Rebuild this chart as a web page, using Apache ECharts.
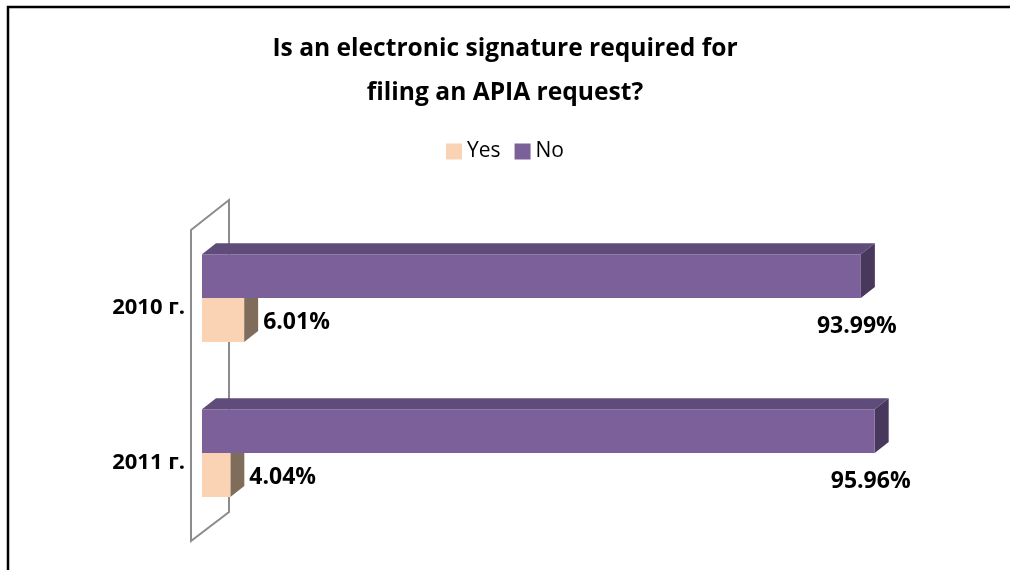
<!DOCTYPE html>
<html>
<head>
<meta charset="utf-8" />
<script type="text/javascript" src="https://cdn.jsdelivr.net/npm/echarts@6/dist/echarts.min.js"></script>
<title>APIA</title>
<style>
  html, body { margin: 0; padding: 0; background: #fff; }
</style>
</head>
<body>
<div id="main" style="width:1010px;height:570px"></div>
<script type="text/javascript">
var categories = ['2010 г.', '2011 г.'];
var yesValues = [6.01, 4.04];
var noValues = [93.99, 95.96];

var myChart = echarts.init(document.getElementById('main'));
var FONT = '"Open Sans", Lato, sans-serif';
var DX = 14, DY = -11;

// colours: front, top, side
var yesColors = ['#fad3b4', '#d9b497', '#7f6c5a'];
var noColors = ['#7b609a', '#5f4c7a', '#48385c'];

function makeRender(colors, isNo) {
  return function (params, api) {
    var cat = api.value(1), val = api.value(0);
    var p0 = api.coord([0, cat]);
    var p1 = api.coord([val, cat]);
    var band = api.size([0, 1])[1];
    var h = band * 0.283;
    var yc = p0[1] - band * 0.061;
    var top = isNo ? yc - h : yc;
    var x0 = p0[0], x1 = p1[0];
    var label = val.toFixed(2) + '%';
    var children = [
      {
        type: 'polygon',
        shape: { points: [[x0, top], [x0 + DX, top + DY], [x1 + DX, top + DY], [x1, top]] },
        style: { fill: colors[1] }
      },
      {
        type: 'polygon',
        shape: { points: [[x1, top], [x1 + DX, top + DY], [x1 + DX, top + h + DY], [x1, top + h]] },
        style: { fill: colors[2] }
      },
      {
        type: 'rect',
        shape: { x: x0, y: top, width: x1 - x0, height: h },
        style: { fill: colors[0] }
      }
    ];
    if (isNo) {
      children.push({
        type: 'text',
        style: {
          x: x1 - 4, y: top + h + 28, text: label,
          font: 'bold 23px ' + FONT, fill: '#000',
          align: 'center', verticalAlign: 'middle'
        }
      });
    } else {
      children.push({
        type: 'text',
        style: {
          x: x1 + 19, y: top + h / 2 + 2, text: label,
          font: 'bold 23px ' + FONT, fill: '#000',
          align: 'left', verticalAlign: 'middle'
        }
      });
    }
    return { type: 'group', children: children };
  };
}

var option = {
  animation: false,
  title: {
    text: 'Is an electronic signature required for\nfiling an APIA request?',
    left: 'center',
    top: 22,
    textStyle: { fontFamily: FONT, fontWeight: 'bold', fontSize: 24.6, lineHeight: 44, color: '#000' }
  },
  legend: {
    top: 136,
    left: 'center',
    itemWidth: 16,
    itemHeight: 16,
    itemGap: 14,
    icon: 'rect',
    textStyle: { fontFamily: FONT, fontSize: 21, color: '#000' },
    data: ['Yes', 'No']
  },
  grid: { left: 202, width: 701, top: 230, height: 310 },
  xAxis: { type: 'value', min: 0, max: 100, show: false },
  yAxis: {
    type: 'category',
    data: categories,
    inverse: true,
    axisLine: { show: false },
    axisTick: { show: false },
    axisLabel: { margin: 17, fontFamily: FONT, fontWeight: 'bold', fontSize: 22, color: '#000' }
  },
  graphic: [
    {
      type: 'rect', z: 0,
      shape: { x: 8, y: 7, width: 1100, height: 700 },
      style: { fill: 'none', stroke: '#000', lineWidth: 2.5 }
    },
    {
      type: 'polygon', z: 0,
      shape: { points: [[191, 230], [229, 200], [229, 512], [191, 541]] },
      style: { fill: 'none', stroke: '#8c8c8c', lineWidth: 2 }
    }
  ],
  series: [
    {
      name: 'Yes', type: 'custom', z: 5,
      itemStyle: { color: yesColors[0] },
      encode: { x: 0, y: 1 },
      renderItem: makeRender(yesColors, false),
      data: yesValues.map(function (v, i) { return [v, i]; })
    },
    {
      name: 'No', type: 'custom', z: 6,
      itemStyle: { color: noColors[0] },
      encode: { x: 0, y: 1 },
      renderItem: makeRender(noColors, true),
      data: noValues.map(function (v, i) { return [v, i]; })
    }
  ]
};
myChart.setOption(option);
</script>
</body>
</html>
